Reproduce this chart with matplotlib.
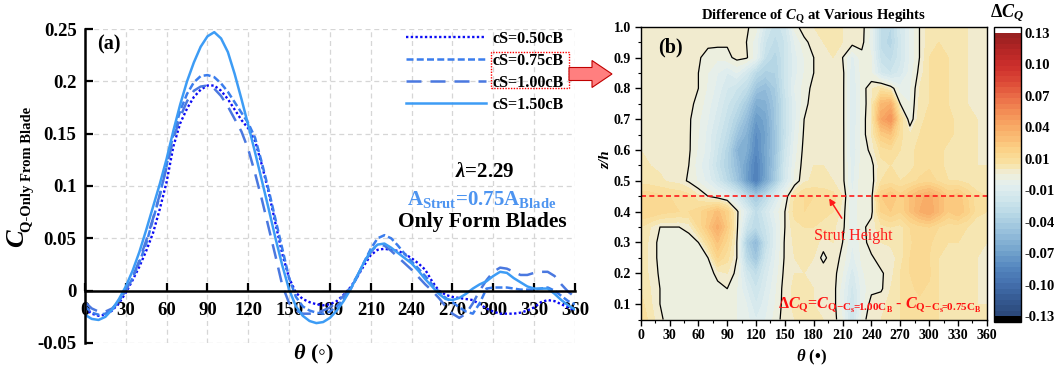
import numpy as np
import matplotlib
matplotlib.use("Agg")
import matplotlib.pyplot as plt
from matplotlib import patches
from matplotlib.colors import LinearSegmentedColormap
from matplotlib.ticker import MultipleLocator, FuncFormatter, FormatStrFormatter

plt.rcParams["font.family"] = ["Liberation Serif", "DejaVu Serif"]
plt.rcParams["font.weight"] = "bold"
plt.rcParams["mathtext.fontset"] = "custom"
plt.rcParams["mathtext.rm"] = "Liberation Serif:bold"
plt.rcParams["mathtext.it"] = "Liberation Serif:italic:bold"
plt.rcParams["mathtext.bf"] = "Liberation Serif:bold"

# ---- panel (a): torque coefficient of the blades vs azimuth ----
theta_deg = list(range(0, 365, 5))

cq_050 = [-0.017, -0.022, -0.024, -0.023, -0.019, -0.012, -0.002, 0.010, 0.023, 0.038,
          0.055, 0.078, 0.104, 0.138, 0.160, 0.174, 0.185, 0.192, 0.196, 0.196,
          0.191, 0.183, 0.173, 0.163, 0.155, 0.143, 0.120, 0.094, 0.064, 0.035,
          0.012, -0.002, -0.008, -0.011, -0.013, -0.014, -0.013, -0.010, -0.004, 0.003,
          0.013, 0.024, 0.034, 0.039, 0.040, 0.039, 0.038, 0.035, 0.031, 0.026,
          0.020, 0.009, 0.000, -0.004, -0.006, -0.007, -0.008, -0.009, -0.013, -0.017,
          -0.020, -0.022, -0.022, -0.022, -0.021, -0.019, -0.016, -0.011, -0.009, -0.010,
          -0.013, -0.016, -0.019]

cq_075 = [-0.015, -0.021, -0.023, -0.022, -0.018, -0.010, 0.000, 0.012, 0.027, 0.045,
          0.068, 0.091, 0.120, 0.150, 0.172, 0.188, 0.199, 0.205, 0.206, 0.204,
          0.198, 0.190, 0.180, 0.170, 0.160, 0.146, 0.122, 0.096, 0.068, 0.040,
          0.012, -0.006, -0.015, -0.019, -0.021, -0.022, -0.020, -0.015, -0.008, 0.001,
          0.013, 0.027, 0.040, 0.050, 0.053, 0.050, 0.043, 0.035, 0.028, 0.021,
          0.014, 0.006, -0.001, -0.007, -0.011, -0.016, -0.020, -0.022, -0.012, 0.002,
          0.003, 0.003, 0.003, 0.002, 0.001, 0.001, 0.001, 0.002, 0.003, 0.000,
          -0.005, -0.010, -0.013]

cq_100 = [-0.011, -0.017, -0.020, -0.020, -0.017, -0.010, 0.000, 0.013, 0.029, 0.048,
          0.069, 0.092, 0.118, 0.145, 0.166, 0.181, 0.191, 0.195, 0.196, 0.193,
          0.186, 0.176, 0.164, 0.152, 0.135, 0.112, 0.087, 0.060, 0.033, 0.005,
          -0.012, -0.019, -0.022, -0.022, -0.021, -0.019, -0.016, -0.011, -0.005, 0.003,
          0.014, 0.026, 0.037, 0.044, 0.043, 0.038, 0.032, 0.026, 0.020, 0.013,
          0.006, 0.000, -0.007, -0.015, -0.022, -0.026, -0.022, -0.012, 0.000, 0.010,
          0.018, 0.022, 0.021, 0.018, 0.015, 0.015, 0.017, 0.018, 0.018, 0.014,
          0.006, -0.001, -0.006]

cq_150 = [-0.023, -0.027, -0.028, -0.025, -0.018, -0.008, 0.004, 0.019, 0.037, 0.058,
          0.080, 0.102, 0.126, 0.153, 0.178, 0.200, 0.218, 0.233, 0.243, 0.247,
          0.241, 0.228, 0.207, 0.183, 0.158, 0.132, 0.105, 0.078, 0.050, 0.024,
          0.001, -0.015, -0.024, -0.029, -0.031, -0.030, -0.026, -0.019, -0.010, 0.001,
          0.014, 0.027, 0.038, 0.044, 0.045, 0.041, 0.036, 0.031, 0.026, 0.019,
          0.011, 0.004, -0.003, -0.008, -0.009, -0.007, -0.003, 0.002, 0.006, 0.009,
          0.014, 0.018, 0.017, 0.012, 0.008, 0.004, 0.002, 0.002, 0.002, -0.003,
          -0.009, -0.014, -0.018]

series_labels = ["cS=0.50cB", "cS=0.75cB", "cS=1.00cB", "cS=1.50cB"]

# ---- panel (b): Delta C_Q field (units of 1e-3), rows from z/h = 1.00 down to 0.05 ----
theta_grid = list(range(0, 361, 10))
zh_grid = [1.00, 0.95, 0.90, 0.85, 0.80, 0.75, 0.70, 0.65, 0.60, 0.55,
           0.50, 0.45, 0.40, 0.35, 0.30, 0.25, 0.20, 0.15, 0.10, 0.05]
dcq_milli = [
    [5, 4, 4, 3, 3, 3, 3, 2, 2, 2, 2, 1, -3, -20, -28, -22, -3, 4, 5, 6, 6, 5, 3, 2, -6, -30, -35, -20, -10, 0, 8, 10, 8, 6, 5, 4, 4],
    [5, 4, 4, 3, 3, 3, 3, 2, 2, 1, 1, 0, -8, -25, -32, -25, -10, -2, 3, 5, 6, 5, 3, 2, -8, -32, -38, -22, -10, 0, 8, 10, 8, 6, 5, 4, 4],
    [5, 4, 3, 3, 3, 2, 1, -3, -4, -2, 2, 1, -8, -30, -38, -25, -12, -5, 0, 5, 5, 0, -12, -2, -5, -28, -32, -22, -10, 0, 10, 12, 10, 7, 5, 4, 4],
    [5, 4, 3, 3, 3, 2, 0, -5, -10, -15, -10, -20, -35, -42, -40, -25, -12, -5, 0, 4, 5, 2, -14, -3, -5, -20, -25, -18, -8, 2, 10, 12, 10, 7, 5, 4, 4],
    [5, 4, 3, 3, 3, 2, 0, -6, -12, -20, -25, -32, -50, -55, -45, -25, -10, -3, 2, 4, 5, 2, -15, -3, 4, 10, 4, -8, -6, 5, 10, 12, 10, 7, 5, 4, 4],
    [5, 4, 3, 3, 3, 2, -2, -8, -15, -24, -32, -45, -65, -62, -48, -28, -12, -2, 3, 4, 5, 2, -15, -4, 5, 35, 40, 0, -5, 6, 10, 12, 10, 7, 5, 4, 4],
    [5, 4, 3, 3, 3, 1, -4, -10, -18, -28, -40, -55, -75, -68, -48, -28, -12, 0, 4, 5, 5, 2, -15, -3, 5, 45, 55, 15, -4, 8, 12, 14, 12, 8, 6, 5, 4],
    [5, 4, 3, 3, 3, 1, -5, -12, -22, -32, -50, -62, -82, -70, -50, -28, -10, 1, 4, 5, 5, 2, -14, -3, 5, 25, 30, 12, 5, 10, 14, 15, 12, 8, 6, 5, 4],
    [5, 4, 3, 3, 3, 1, -6, -12, -25, -38, -60, -65, -85, -68, -50, -25, -8, 2, 4, 5, 5, 2, -14, -4, 2, 12, 15, 10, 8, 12, 14, 12, 8, 7, 6, 5, 4],
    [6, 5, 4, 3, 2, 0, -8, -15, -28, -40, -55, -72, -90, -70, -48, -22, -6, 3, 5, 5, 5, 2, -13, -3, -2, 8, 10, 8, 8, 12, 14, 12, 8, 7, 6, 5, 5],
    [8, 7, 6, 4, 3, -1, -6, -12, -22, -35, -50, -72, -92, -68, -45, -20, -4, 4, 6, 6, 5, 2, -12, -2, -3, 10, 12, 10, 12, 16, 18, 14, 10, 10, 8, 6, 6],
    [18, 18, 16, 15, 14, 12, 6, 0, -4, -8, -18, -35, -48, -35, -18, -4, 10, 15, 15, 14, 12, 5, -10, -2, -2, 25, 30, 22, 30, 38, 42, 35, 25, 28, 20, 12, 10],
    [20, 20, 18, 16, 15, 15, 18, 25, 32, 22, 2, -15, -32, -20, -8, 0, 12, 15, 14, 12, 10, 3, -10, 0, -2, 20, 25, 20, 30, 40, 45, 35, 25, 30, 22, 12, 10],
    [10, 5, 0, 0, 0, 2, 15, 28, 42, 25, 2, -25, -35, -25, -12, 0, 8, 10, 10, 8, 6, 2, -10, -2, 3, 8, 10, 8, 15, 18, 20, 15, 12, 12, 10, 6, 6],
    [8, 4, -2, -3, -3, -3, 0, 15, 30, 18, 0, -42, -58, -30, -12, 1, 6, 8, 7, 3, 5, 0, -10, -3, 3, 5, 6, 8, 14, 18, 16, 12, 10, 10, 8, 6, 5],
    [8, 4, -2, -3, -3, -3, -3, 0, 20, 12, 0, -35, -50, -24, -10, 1, 5, 6, 5, -2, 4, -2, -12, -4, -1, 3, 2, 8, 15, 18, 15, 10, 8, 9, 7, 5, 5],
    [8, 4, -1, -3, -3, -3, -3, -3, 2, 5, -2, -22, -32, -18, -8, 2, 5, 5, 5, 4, 3, -5, -18, -6, -2, -1, 3, 10, 15, 18, 16, 10, 8, 8, 6, 5, 5],
    [10, 5, 0, -3, -4, -4, -4, -3, -2, 0, -5, -15, -25, -15, -6, 3, 6, 6, 5, 5, 3, -8, -22, -8, -2, -1, 5, 10, 14, 16, 14, 10, 8, 7, 6, 5, 5],
    [12, 6, 0, -3, -4, -4, -3, -3, -3, -3, -5, -10, -20, -12, -5, 3, 6, 6, 5, 5, 3, -8, -25, -8, 3, 4, 6, 10, 12, 14, 12, 10, 8, 7, 6, 5, 5],
    [15, 8, 1, -2, -3, -3, -2, -2, -2, -3, -5, -8, -15, -10, -3, 3, 5, 6, 6, 5, 3, -5, -25, -3, 4, 5, 6, 10, 12, 14, 12, 10, 8, 7, 6, 6, 6],
]
strut_height = 0.45

# colour scale for Delta C_Q
cmap_nodes = [
    (-0.13, "#2a4677"), (-0.115, "#355a92"), (-0.10, "#4470ae"), (-0.085, "#5688c0"),
    (-0.07, "#74a4cd"), (-0.055, "#93bcda"), (-0.04, "#b0d3e4"), (-0.025, "#cde4ec"),
    (-0.01, "#e3efef"), (-0.003, "#ecefe0"), (0.003, "#f1ebce"), (0.01, "#f9e3a4"),
    (0.025, "#fbcf84"), (0.04, "#f9b06a"), (0.055, "#f49358"), (0.07, "#ec7049"),
    (0.085, "#dd4a37"), (0.10, "#cc2f2c"), (0.115, "#b32525"), (0.13, "#952020"),
]
vmin, vmax = -0.13, 0.13
cmap = LinearSegmentedColormap.from_list(
    "dcq", [((v - vmin) / (vmax - vmin), c) for v, c in cmap_nodes])
cmap.set_over("white")
cmap.set_under("black")

fig = plt.figure(figsize=(10.54, 3.69), dpi=100)

# ---------------- panel (a) ----------------
ax = fig.add_axes([0.0806, 0.0705, 0.4649, 0.8509])
styles = [
    dict(color="#0b0bf5", ls=(0, (1.0, 1.0)), lw=1.7),
    dict(color="#3b7ded", ls=(0, (2.8, 1.3)), lw=1.8),
    dict(color="#4a78e0", ls=(0, (6.0, 3.6)), lw=1.8),
    dict(color="#3d9cf5", ls="-", lw=1.8),
]
for y, lab, st in zip([cq_050, cq_075, cq_100, cq_150], series_labels, styles):
    ax.plot(theta_deg, y, label=lab, **st)

ax.set_xlim(0, 360)
ax.set_ylim(-0.05, 0.25)
ax.set_xticks(range(0, 361, 30))
ax.set_yticks([-0.05, 0, 0.05, 0.1, 0.15, 0.2, 0.25])
ax.yaxis.set_major_formatter(FuncFormatter(lambda v, _: "0" if abs(v) < 1e-9 else f"{v:g}"))
ax.spines["top"].set_visible(False)
ax.spines["right"].set_visible(False)
ax.spines["bottom"].set_position(("data", 0))
for s in ("left", "bottom"):
    ax.spines[s].set_linewidth(1.8)
ax.tick_params(axis="both", direction="in", length=6, width=1.6, labelsize=13.5)
ax.tick_params(axis="x", pad=8)
ax.tick_params(axis="y", pad=6)
ax.set_axisbelow(True)
ax.grid(True, ls=(0, (4, 3)), color="#d6d6d6", lw=0.9)

leg = ax.legend(loc="upper left", bbox_to_anchor=(0.655, 0.995), frameon=False,
                fontsize=11.5, handlelength=5.0, handletextpad=0.45,
                labelspacing=0.38, borderpad=0, borderaxespad=0)

ax.text(0.025, 0.95, "(a)", transform=ax.transAxes, fontsize=14.5, va="center", ha="left")
fig.text(485 / 1054, 1 - 172 / 369, r"$\mathit{\lambda}$=2.29", fontsize=15,
         ha="center", va="center")
fig.text(482 / 1054, 1 - 199 / 369, r"$\mathrm{A_{Strut}}$=0.75$\mathrm{A_{Blade}}$",
         fontsize=15, color="#4d94f0", ha="center", va="center")
fig.text(482 / 1054, 1 - 222 / 369, "Only Form Blades", fontsize=15.5,
         ha="center", va="center")

fig.text(17 / 1054, 1 - 238 / 369, "C", fontsize=19, style="italic", rotation=90,
         ha="center", va="center")
fig.text(27 / 1054, 1 - 169 / 369, "Q-Only From Blade", fontsize=10.5, rotation=90,
         ha="center", va="center")
fig.text(313 / 1054, 1 - 354 / 369, r"$\mathit{\theta}$ (◦)", fontsize=16,
         ha="center", va="center")

# dotted box around the two compared cases and the pointer to panel (b)
box = patches.Rectangle((0.828, 0.811), 0.160, 0.117, transform=ax.transAxes,
                        fill=False, ec="red", ls=(0, (1, 1)), lw=1.0, clip_on=False)
ax.add_patch(box)
arrow = patches.FancyArrow(5.69, 3.69 - 0.74, 0.43, 0, width=0.13, head_width=0.27,
                           head_length=0.2, length_includes_head=True,
                           transform=fig.dpi_scale_trans, fc="#ff7f7f", ec="#c00000", lw=0.8)
fig.patches.append(arrow)

# ---------------- panel (b) ----------------
bx = fig.add_axes([0.6079, 0.1341, 0.3283, 0.7935])
field = np.array(dcq_milli, dtype=float)[::-1] / 1000.0
zh = np.array(zh_grid)[::-1]
levels = np.linspace(vmin, vmax, 53)
cf = bx.contourf(theta_grid, zh, field, levels=levels, cmap=cmap, extend="both")
bx.contour(theta_grid, zh, field, levels=[0.0], colors="black", linewidths=0.9)
bx.axhline(strut_height, color="#ff1a1a", ls=(0, (3, 2)), lw=1.2)

bx.set_xlim(0, 360)
bx.set_ylim(0.05, 1.0)
bx.xaxis.set_major_locator(MultipleLocator(30))
bx.xaxis.set_minor_locator(MultipleLocator(15))
bx.yaxis.set_major_locator(MultipleLocator(0.1))
bx.yaxis.set_minor_locator(MultipleLocator(0.05))
bx.yaxis.set_major_formatter(FormatStrFormatter("%.1f"))
bx.tick_params(which="major", direction="out", length=4, width=1, labelsize=10, pad=3)
bx.tick_params(which="minor", direction="out", length=2.5, width=0.8)
for s in bx.spines.values():
    s.set_linewidth(1.0)

bx.set_title(r"Difference of $\mathit{C}_{\mathrm{Q}}$ at Various Hegihts",
             fontsize=10.5, fontweight="bold", pad=5)
bx.text(0.05, 0.93, "(b)", transform=bx.transAxes, fontsize=14.5, va="center", ha="left")
fig.text(606 / 1054, 1 - 160 / 369, "z/h", fontsize=11, style="italic", rotation=90,
         ha="center", va="center")
fig.text(812 / 1054, 1 - 357 / 369, r"$\mathit{\theta}$ (•)", fontsize=12,
         ha="center", va="center")

bx.annotate("Strut Height", xy=(196, 0.443), xytext=(221, 0.321),
            fontsize=11.5, fontweight="normal", color="#ff1a1a", ha="center", va="center",
            arrowprops=dict(arrowstyle="-|>", color="#ff1a1a", lw=1.1,
                            mutation_scale=9, shrinkA=6, shrinkB=0))
bx.text(0.985, 0.05,
        r"$\mathit{ΔC}_{\mathrm{Q}}$=$\mathit{C}_{\mathrm{Q{-}C_{s}\!\!=\!\!1.00C_{B}}}$"
        r" - $\mathit{C}_{\mathrm{Q{-}C_{s}\!\!=\!\!0.75C_{B}}}$",
        transform=bx.transAxes, fontsize=11.5, color="#ff1010", ha="right", va="center")

cax = fig.add_axes([0.9431, 0.1274, 0.0253, 0.7995])
cb = fig.colorbar(cf, cax=cax, extend="both", extendrect=True, extendfrac=0.021)
cb.set_ticks(np.linspace(vmin, vmax, 10))
cb.ax.yaxis.set_major_formatter(FormatStrFormatter("%.2f"))
cb.ax.tick_params(length=0, labelsize=10.5, pad=3)
cb.outline.set_linewidth(1.0)
fig.text(1007 / 1054, 1 - 13 / 369, r"$\mathit{ΔC_{Q}}$", fontsize=13,
         ha="center", va="center")

fig.savefig("out.png", dpi=100)
